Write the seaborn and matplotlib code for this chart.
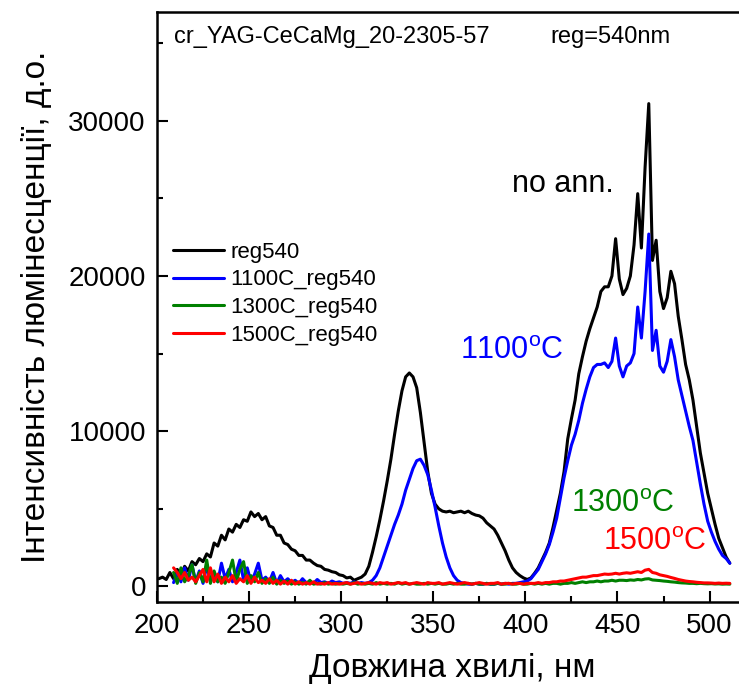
import numpy as np
import pandas as pd
import matplotlib
matplotlib.use("Agg")
import matplotlib.pyplot as plt
from matplotlib.ticker import MultipleLocator
import seaborn as sns

# ---------------- data ----------------
wl_black = list(range(201, 512, 2))
wl_ann = list(range(209, 512, 2))

black = [500,
    600, 450, 900, 500, 1100, 700, 1300, 1000, 1600, 1400,
    1800, 1600, 2100, 1900, 2800, 2600, 3300, 3000, 3700, 3500,
    4000, 3800, 4300, 4200, 4800, 4500, 4700, 4300, 4500, 3900,
    3800, 3300, 3300, 2800, 2700, 2400, 2300, 2000, 2000, 1700,
    1700, 1500, 1350, 1300, 1100, 1050, 950, 900, 750, 700,
    550, 600, 400, 500, 600, 800, 1300, 2200, 3200, 4300,
    5500, 6800, 8200, 9800, 11300, 12600, 13500, 13750, 13500, 12800,
    11200, 9300, 7400, 6000, 5300, 5000, 4850, 4800, 4850, 4750,
    4800, 4850, 4750, 4850, 4700, 4600, 4550, 4400, 4100, 3900,
    3700, 3300, 2800, 2300, 1700, 1200, 900, 700, 550, 450,
    550, 850, 1200, 1700, 2200, 2800, 3800, 4900, 6000, 7400,
    9500, 10800, 12000, 13700, 14800, 15800, 16600, 17300, 18000, 19000,
    19300, 19300, 20000, 22400, 19800, 18800, 19200, 20000, 22000, 25300,
    21800, 27000, 31100, 21000, 22300, 19000, 17900, 18600, 20300, 19500,
    17400, 15900, 14300, 13300, 12000, 10300, 8600, 7300, 6000, 5000,
    4000, 3100, 2500, 1900, 1500]

blue = [
    250, 900, 300, 1200, 400, 1400, 300,
    1000, 200, 1300, 400, 800, 300, 1500, 500, 1100, 300,
    900, 1700, 400, 1200, 300, 800, 1500, 400, 600, 300,
    900, 200, 700, 300, 500, 250, 400, 200, 500, 250,
    300, 200, 450, 250, 300, 200, 350, 250, 300, 200,
    250, 200, 300, 200, 250, 200, 250, 400, 700, 1200,
    1900, 2600, 3300, 4000, 4600, 5300, 6200, 6900, 7600, 8100,
    8200, 7800, 7200, 6200, 5100, 3900, 2800, 1900, 1200, 700,
    400, 250, 200, 150, 150, 200, 150, 150, 200, 150,
    150, 200, 150, 200, 150, 200, 200, 250, 300, 350,
    500, 800, 1100, 1600, 2100, 2700, 3500, 4400, 5700, 7000,
    8100, 9100, 9800, 10700, 11800, 12700, 13500, 14100, 14300, 14300,
    14400, 14100, 14500, 16000, 14200, 13500, 14200, 14400, 15000, 18000,
    16000, 19000, 22700, 15200, 16500, 14200, 13800, 14500, 15900, 14800,
    13300, 12300, 11300, 10300, 9400, 8000, 6600, 5300, 4200, 3500,
    2900, 2400, 2000, 1800, 1500]

green = [
    900, 200, 1200, 300, 700, 1400, 200,
    900, 300, 1700, 200, 1000, 300, 600, 200, 900, 1700,
    300, 1100, 1600, 200, 700, 300, 900, 200, 500, 200,
    600, 150, 400, 200, 350, 150, 300, 150, 250, 150,
    400, 150, 200, 150, 250, 150, 200, 150, 200, 150,
    200, 150, 250, 150, 200, 150, 200, 150, 250, 150,
    200, 150, 200, 150, 250, 150, 200, 150, 200, 150,
    150, 200, 150, 200, 150, 200, 150, 150, 200, 150,
    200, 150, 150, 200, 150, 200, 150, 150, 200, 150,
    150, 200, 150, 150, 200, 150, 150, 200, 150, 150,
    200, 150, 200, 150, 200, 150, 200, 200, 150, 200,
    200, 250, 200, 250, 300, 250, 300, 300, 350, 300,
    350, 350, 400, 350, 400, 400, 380, 420, 400, 450,
    420, 480, 500, 420, 400, 380, 350, 330, 300, 280,
    250, 230, 220, 200, 200, 180, 200, 180, 170, 180,
    160, 170, 150, 160, 150]

red = [
    1200, 900, 500, 900, 400, 600, 300,
    700, 1100, 300, 1200, 300, 800, 200, 600, 300, 700,
    200, 500, 300, 700, 200, 600, 250, 400, 200, 500,
    200, 400, 150, 350, 150, 400, 150, 300, 150, 250,
    150, 300, 150, 200, 150, 250, 150, 200, 150, 200,
    250, 150, 200, 250, 150, 200, 250, 200, 150, 250,
    200, 250, 150, 200, 250, 200, 250, 150, 200, 250,
    200, 150, 250, 200, 200, 250, 150, 200, 250, 200,
    150, 200, 250, 200, 150, 200, 250, 200, 150, 200,
    200, 250, 150, 200, 200, 150, 200, 200, 150, 200,
    200, 200, 250, 200, 250, 250, 300, 300, 350, 350,
    400, 450, 500, 550, 600, 600, 650, 700, 700, 750,
    800, 780, 800, 850, 800, 850, 880, 850, 900, 950,
    900, 1050, 1100, 900, 850, 750, 700, 650, 580, 520,
    450, 400, 350, 320, 300, 270, 250, 230, 230, 220,
    200, 220, 200, 210, 200]

series_names = ["reg540", "1100C_reg540", "1300C_reg540", "1500C_reg540"]
series_colors = ["#000000", "#0000ff", "#008000", "#ff0000"]
annotations = ["no ann.", "1100$^{\\mathregular{o}}$C", "1300$^{\\mathregular{o}}$C", "1500$^{\\mathregular{o}}$C"]
annot_pos = [(393, 25900), (364.5, 15150), (424.6, 5300), (442, 2850)]

frames = [
    pd.DataFrame({"wl": wl_black, "I": black, "s": series_names[0]}),
    pd.DataFrame({"wl": wl_ann, "I": blue, "s": series_names[1]}),
    pd.DataFrame({"wl": wl_ann, "I": green, "s": series_names[2]}),
    pd.DataFrame({"wl": wl_ann, "I": red, "s": series_names[3]}),
]
df = pd.concat(frames, ignore_index=True)

# ---------------- style ----------------
sns.set_style("ticks")
plt.rcParams["font.family"] = ["Liberation Sans", "DejaVu Sans"]
plt.rcParams["mathtext.fontset"] = "custom"
plt.rcParams["mathtext.rm"] = "Liberation Sans"
for key in ["text.color", "axes.labelcolor", "xtick.color", "ytick.color", "axes.edgecolor"]:
    plt.rcParams[key] = "black"

fig = plt.figure(figsize=(7.39, 6.95), dpi=100)
ax = fig.add_axes([157 / 739, 1 - 602 / 695, 1 - 157 / 739 + 0.01, (602 - 12) / 695])

sns.lineplot(data=df, x="wl", y="I", hue="s", hue_order=series_names,
             palette=dict(zip(series_names, series_colors)), ax=ax,
             linewidth=2.2, estimator=None, sort=False)

ax.set_xlim(200, 520)
ax.set_ylim(-1000, 37000)
ax.xaxis.set_major_locator(MultipleLocator(50))
ax.xaxis.set_minor_locator(MultipleLocator(25))
ax.yaxis.set_major_locator(MultipleLocator(10000))
ax.yaxis.set_minor_locator(MultipleLocator(5000))
ax.tick_params(which="both", direction="in", width=1.5, labelsize=20, top=False, right=False,
               colors="black")
ax.tick_params(which="major", length=8, pad=8)
ax.tick_params(which="minor", length=4)
for side in ["left", "bottom", "top"]:
    ax.spines[side].set_linewidth(1.8)
    ax.spines[side].set_color("black")
ax.spines["right"].set_visible(False)

ax.set_xlabel("Довжина хвилі, нм", fontsize=24, labelpad=10, color="black")
ax.set_ylabel("Інтенсивність люмінесценції, д.о.", fontsize=24, labelpad=12, color="black")

leg = ax.legend(loc="upper left", bbox_to_anchor=(0.0, 0.637), frameon=False,
                fontsize=16, handlelength=2.3, handletextpad=0.3, labelspacing=0.3,
                borderaxespad=0.3)
for line in leg.get_lines():
    line.set_linewidth(2.2)
for t in leg.get_texts():
    t.set_color("black")

for txt, (xx, yy), col in zip(annotations, annot_pos, series_colors):
    ax.text(xx, yy, txt, color=col, fontsize=22, ha="left", va="center")

ax.text(0.028, 0.958, "cr_YAG-CeCaMg_20-2305-57", transform=ax.transAxes,
        fontsize=17, ha="left", va="center", color="black")
ax.text(0.668, 0.958, "reg=540nm", transform=ax.transAxes,
        fontsize=17, ha="left", va="center", color="black")

fig.savefig("out.png", dpi=100)
